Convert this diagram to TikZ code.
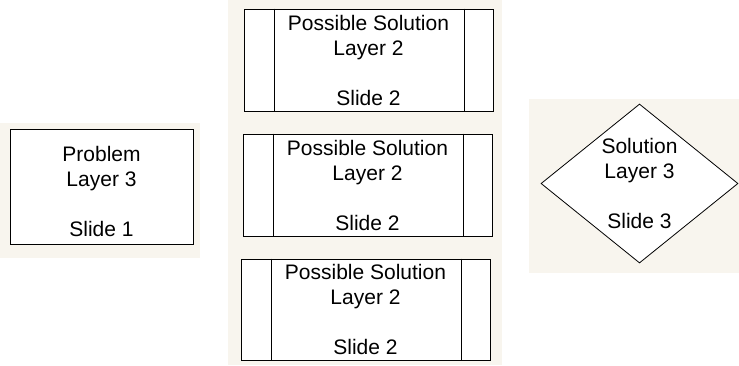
\documentclass[tikz,border=0pt]{standalone}
\usepackage{fontspec}
\setmainfont{Liberation Sans}
\usepackage{xcolor}
\usetikzlibrary{shapes.geometric}
\definecolor{panel}{RGB}{248,245,238}
\tikzset{
	slidetext/.style={font=\fontsize{21}{25}\selectfont, align=center},
	slidebox/.style={draw, fill=white, line width=1pt, inner sep=0pt, slidetext},
	solbox/.style={slidebox, minimum width=249pt, minimum height=102pt}
}

\begin{document}
\begin{tikzpicture}[x=1pt,y=-1pt]
			\useasboundingbox (0,0) rectangle (739,365);
			\fill [panel] (0,123) rectangle (200,258);
			\fill [panel] (228,0) rectangle (502,365);
			\fill [panel] (529,99) rectangle (739,273);
			\node [slidebox, minimum width=183pt, minimum height=115pt] (prob) at (101.5,186.5) {};
			\node [slidetext] (probtext) at ([yshift=-5pt]prob.center) {Problem\\Layer 3\\[25pt]Slide 1};
			\node [solbox] (s1) at (368.5,60) {Possible Solution\\Layer 2\\[25pt]Slide 2};
			\node [solbox] (s2) at (367.5,185) {Possible Solution\\Layer 2\\[25pt]Slide 2};
			\node [solbox, minimum height=101pt] (s3) at (365.5,309.5) {Possible Solution\\Layer 2\\[25pt]Slide 2};
			\foreach \n in {s1,s2,s3} {
				\draw [line width=1pt] ([xshift=31pt]\n.north west) -- ([xshift=31pt]\n.south west);
				\draw [line width=1pt] ([xshift=-29pt]\n.north east) -- ([xshift=-29pt]\n.south east);
			}
			\node [diamond, draw, fill=white, line width=0.8pt, inner sep=0pt, minimum width=197pt, minimum height=159pt] (sol) at (639.5,183.5) {};
			\node [slidetext] (soltext) at (sol) {Solution\\Layer 3\\[25pt]Slide 3};
		\end{tikzpicture}
\end{document}
